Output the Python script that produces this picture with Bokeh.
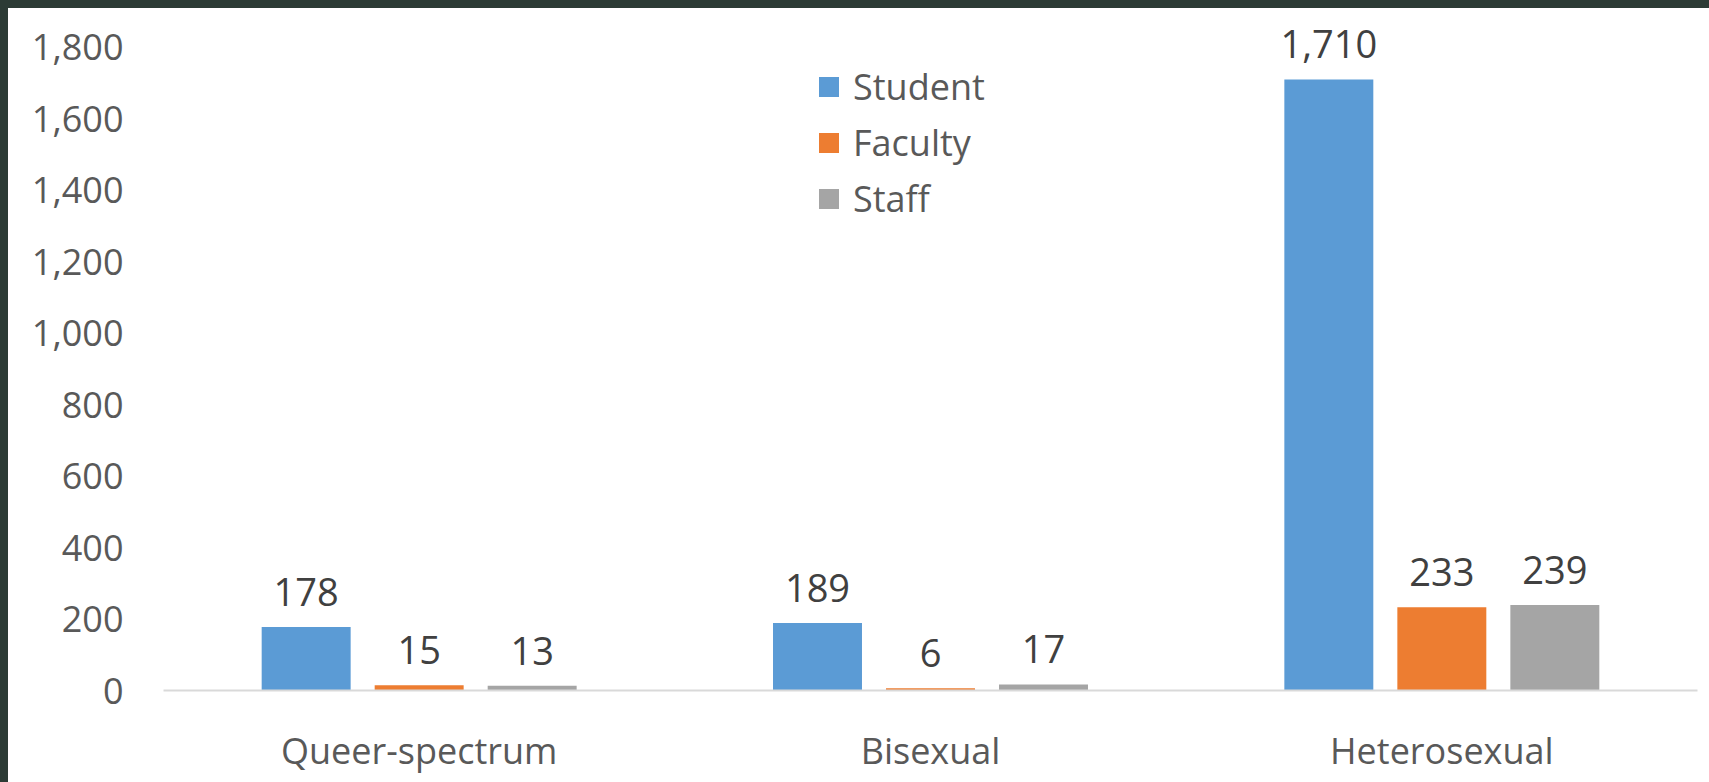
from bokeh.plotting import figure
from bokeh.models import (ColumnDataSource, FactorRange, Range1d, FixedTicker,
                          NumeralTickFormatter, Legend, LegendItem)
from bokeh.transform import dodge
from bokeh.core.properties import value
from bokeh.embed import file_html
from bokeh.resources import INLINE

categories = ["Queer-spectrum", "Bisexual", "Heterosexual"]
student = [178, 189, 1710]
faculty = [15, 6, 233]
staff = [13, 17, 239]
series_names = ["Student", "Faculty", "Staff"]
y_ticks = [0, 200, 400, 600, 800, 1000, 1200, 1400, 1600, 1800]

colors = ["#5B9BD5", "#ED7D31", "#A5A5A5"]
FONT = "Open Sans"

src = ColumnDataSource(dict(
    cat=categories,
    Student=student, Faculty=faculty, Staff=staff,
    Student_lbl=[f"{v:,}" for v in student],
    Faculty_lbl=[f"{v:,}" for v in faculty],
    Staff_lbl=[f"{v:,}" for v in staff],
))

p = figure(x_range=FactorRange(*categories, range_padding=0),
           y_range=Range1d(0, 1900),
           width=1701, height=774, output_backend="svg", toolbar_location=None,
           min_border_left=155, min_border_right=12, min_border_top=3, min_border_bottom=92)
p.styles = {"background-color": "white"}
p.background_fill_color = "white"
p.border_fill_color = "white"
p.outline_line_color = None
p.xgrid.grid_line_color = None
p.ygrid.grid_line_color = None

offsets = [-0.221, 0.0, 0.221]
renderers = []
for name, off, col in zip(series_names, offsets, colors):
    r = p.vbar(x=dodge("cat", off, range=p.x_range), top=name, width=0.174, bottom=0,
               source=src, fill_color=col, line_color=None)
    renderers.append(r)
    p.text(x=dodge("cat", off, range=p.x_range), y=name, text=name + "_lbl", source=src,
           text_align="center", text_baseline="alphabetic", y_offset=-35,
           text_font=value(FONT), text_font_size="38px", text_color="#404040")

legend = Legend(items=[LegendItem(label=n, renderers=[r]) for n, r in zip(series_names, renderers)],
                location=(653, 467), orientation="vertical",
                glyph_width=25, glyph_height=25, label_height=49, spacing=7,
                label_standoff=12, padding=0, margin=0,
                label_text_font=FONT, label_text_font_size="36px", label_text_color="#595959",
                border_line_color=None, background_fill_alpha=0)
p.add_layout(legend, "center")

p.yaxis.ticker = FixedTicker(ticks=y_ticks)
p.yaxis.formatter = NumeralTickFormatter(format="0,0")
p.yaxis.axis_line_color = None
p.yaxis.major_tick_line_color = None
p.yaxis.minor_tick_line_color = None
p.yaxis.major_label_standoff = 34
p.yaxis.major_label_text_font = FONT
p.yaxis.major_label_text_font_size = "36px"
p.yaxis.major_label_text_color = "#595959"

p.xaxis.axis_line_color = "#D9D9D9"
p.xaxis.axis_line_width = 2
p.xaxis.major_tick_line_color = None
p.xaxis.minor_tick_line_color = None
p.xaxis.major_label_standoff = 29
p.xaxis.major_label_text_font = FONT
p.xaxis.major_label_text_font_size = "36px"
p.xaxis.major_label_text_color = "#595959"

template = """
{% block postamble %}
<style>
html { background: #2c3b35; }
body { margin: 8px 0 0 8px; background: #2c3b35; overflow: hidden; }
</style>
{% endblock %}
"""

open("out.html", "w").write(file_html(p, INLINE, template=template))
